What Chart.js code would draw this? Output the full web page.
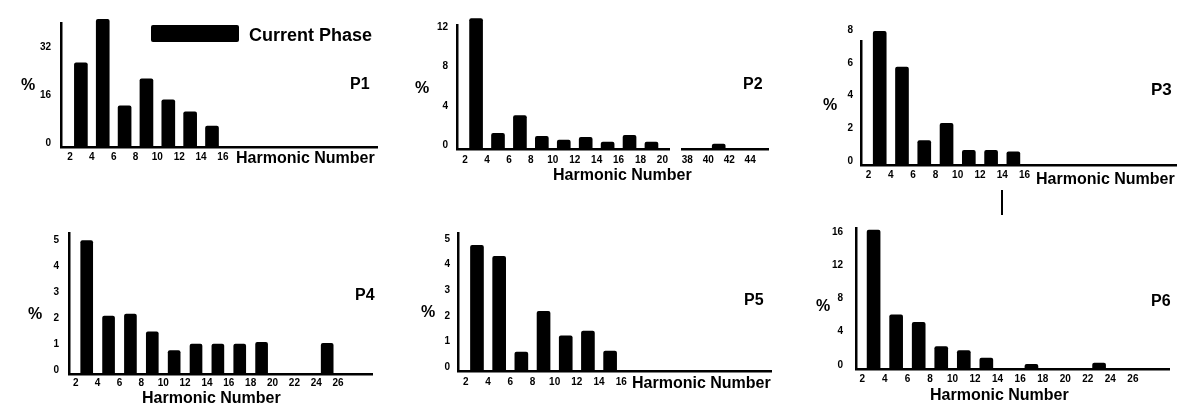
<!DOCTYPE html>
<html>
<head>
<meta charset="utf-8">
<title>Current phase harmonic spectra P1-P6</title>
<script src="https://cdn.jsdelivr.net/npm/chart.js@4.4.1/dist/chart.umd.min.js"></script>
<style>
  body { margin: 0; background: #fff; }
  #wrap { position: relative; width: 1187px; height: 403px; overflow: hidden; background: #fff; }
  #wrap canvas { position: absolute; left: 0; top: 0; }
</style>
</head>
<body>
<div id="wrap"></div>
<script>
// odd harmonic orders and their % values
const p1Harm = [3, 5, 7, 9, 11, 13, 15];
const p1Vals = [28, 42.5, 13.7, 22.7, 15.7, 11.7, 7];
const p1XTicks = [2, 4, 6, 8, 10, 12, 14, 16];
const p1YTicks = [0, 16, 32];

const p2Harm = [3, 5, 7, 9, 11, 13, 15, 17, 19];
const p2Vals = [13.3, 1.6, 3.4, 1.3, 0.9, 1.2, 0.7, 1.4, 0.7];
const p2HighHarm = [41];
const p2HighVals = [0.5];
const p2XTicks = [2, 4, 6, 8, 10, 12, 14, 16, 18, 20];
const p2HighXTicks = [38, 40, 42, 44];
const p2YTicks = [0, 4, 8, 12];

const p3Harm = [3, 5, 7, 9, 11, 13, 15];
const p3Vals = [8.2, 6.0, 1.5, 2.55, 0.9, 0.9, 0.8];
const p3XTicks = [2, 4, 6, 8, 10, 12, 14, 16];
const p3YTicks = [0, 2, 4, 6, 8];

const p4Harm = [3, 5, 7, 9, 11, 13, 15, 17, 19, 25];
const p4Vals = [5.13, 2.23, 2.3, 1.62, 0.9, 1.15, 1.15, 1.15, 1.22, 1.18];
const p4XTicks = [2, 4, 6, 8, 10, 12, 14, 16, 18, 20, 22, 24, 26];
const p4YTicks = [0, 1, 2, 3, 4, 5];

const p5Harm = [3, 5, 7, 9, 11, 13, 15];
const p5Vals = [4.91, 4.48, 0.74, 2.33, 1.37, 1.56, 0.78];
const p5XTicks = [2, 4, 6, 8, 10, 12, 14, 16];
const p5YTicks = [0, 1, 2, 3, 4, 5];

const p6Harm = [3, 5, 7, 9, 11, 13, 17, 23];
const p6Vals = [16.7, 6.5, 5.6, 2.7, 2.2, 1.3, 0.55, 0.7];
const p6XTicks = [2, 4, 6, 8, 10, 12, 14, 16, 18, 20, 22, 24, 26];
const p6YTicks = [0, 4, 8, 12, 16];

const W = 1187, H = 403;
const YW = 30, XH = 20;
const FONT = '"Liberation Sans", Arial, sans-serif';
const wrap = document.getElementById('wrap');

Chart.defaults.font.family = FONT;

// free text / shapes (panel names, "%", axis names, legend)
const notes = {
  id: 'notes',
  afterDraw(chart, args, opts) {
    const ctx = chart.ctx;
    ctx.save();
    (opts.items || []).forEach(n => {
      ctx.fillStyle = '#000';
      ctx.strokeStyle = '#000';
      if (n.box) {
        ctx.beginPath();
        ctx.roundRect(n.box[0], n.box[1], n.box[2], n.box[3], 2);
        ctx.fill();
        return;
      }
      if (n.line) {
        ctx.lineWidth = 2;
        ctx.beginPath();
        ctx.moveTo(n.line[0], n.line[1]);
        ctx.lineTo(n.line[2], n.line[3]);
        ctx.stroke();
        return;
      }
      ctx.font = 'bold ' + (n.size || 16) + 'px ' + FONT;
      ctx.fillStyle = n.color || '#000';
      ctx.textBaseline = 'alphabetic';
      ctx.fillText(n.text, n.x, n.y);
    });
    ctx.restore();
  }
};

const fixTicks = vals => scale => { scale.ticks = vals.map(v => ({ value: v })); };

function makePanel(p) {
  const cv = document.createElement('canvas');
  cv.width = W;
  cv.height = H;
  wrap.appendChild(cv);
  const axisLine = { display: true, width: 2.5, color: '#000' };
  new Chart(cv, {
    type: 'bar',
    data: {
      datasets: [{
        data: p.harm.map((h, i) => ({ x: h, y: p.vals[i] })),
        backgroundColor: '#000',
        barThickness: p.bar || 13,
        borderRadius: 2,
        clip: false
      }]
    },
    options: {
      responsive: false,
      animation: false,
      devicePixelRatio: 1,
      events: [],
      layout: {
        padding: {
          left: p.area.left - YW,
          top: p.area.top,
          right: W - p.area.right,
          bottom: H - p.area.bottom - XH
        }
      },
      plugins: {
        legend: { display: false },
        tooltip: { enabled: false },
        notes: { items: p.notes || [] }
      },
      scales: {
        x: {
          type: 'linear',
          min: p.xMin,
          max: p.xMax,
          offset: false,
          grid: { display: false, drawTicks: false },
          border: axisLine,
          ticks: { font: { size: 10, weight: 'bold' }, color: '#000', padding: p.xPad, maxRotation: 0, autoSkip: false },
          afterBuildTicks: fixTicks(p.xTicks),
          afterFit: s => { s.height = XH; }
        },
        y: {
          display: p.yTicks ? true : false,
          min: 0,
          max: p.yMax,
          grid: { display: false, drawTicks: false },
          border: axisLine,
          ticks: { font: { size: 10, weight: 'bold' }, color: '#000', padding: p.yPad || 9, labelOffset: -4, autoSkip: false },
          afterBuildTicks: fixTicks(p.yTicks || []),
          afterFit: s => { s.width = YW; }
        }
      }
    },
    plugins: [notes]
  });
}

makePanel({
  harm: p1Harm, vals: p1Vals, xTicks: p1XTicks, yTicks: p1YTicks,
  area: { left: 61, top: 23, right: 377, bottom: 147 },
  xMin: 1.18, xMax: 30.1, yMax: 41.3, xPad: 4, yPad: 10,
  notes: [
    { box: [151, 25, 88, 17] },
    { text: 'Current Phase', x: 249, y: 40.5, size: 18 },
    { text: 'P1', x: 350, y: 89 },
    { text: '%', x: 21, y: 90 },
    { text: 'Harmonic Number', x: 236, y: 163 }
  ]
});

makePanel({
  harm: p2Harm, vals: p2Vals, xTicks: p2XTicks, yTicks: p2YTicks,
  area: { left: 457, top: 25, right: 669, bottom: 149 },
  xMin: 1.26, xMax: 20.6, yMax: 12.65, xPad: 5, yPad: 9,
  notes: [
    { text: 'P2', x: 743, y: 88.5 },
    { text: '%', x: 415, y: 92.5 },
    { text: 'Harmonic Number', x: 553, y: 180 }
  ]
});

makePanel({
  harm: p2HighHarm, vals: p2HighVals, xTicks: p2HighXTicks,
  area: { left: 682, top: 25, right: 768, bottom: 149 },
  xMin: 37.5, xMax: 45.7, yMax: 12.65, xPad: 5
});

makePanel({
  harm: p3Harm, vals: p3Vals, xTicks: p3XTicks, yTicks: p3YTicks,
  area: { left: 861, top: 41, right: 1176, bottom: 165 },
  xMin: 1.32, xMax: 29.6, yMax: 7.6, xPad: 4.5, yPad: 8,
  notes: [
    { text: 'P3', x: 1151, y: 94.5, size: 17 },
    { text: '%', x: 823, y: 110 },
    { text: 'Harmonic Number', x: 1036, y: 184 },
    { line: [1002, 190, 1002, 215] }
  ]
});

makePanel({
  harm: p4Harm, vals: p4Vals, xTicks: p4XTicks, yTicks: p4YTicks,
  area: { left: 69, top: 233, right: 372, bottom: 374 },
  xMin: 1.38, xMax: 29.1, yMax: 5.42, xPad: 3, yPad: 10, bar: 12,
  notes: [
    { text: 'P4', x: 355, y: 300 },
    { text: '%', x: 28, y: 319 },
    { text: 'Harmonic Number', x: 142, y: 402.5 }
  ]
});

makePanel({
  harm: p5Harm, vals: p5Vals, xTicks: p5XTicks, yTicks: p5YTicks,
  area: { left: 458, top: 233, right: 771, bottom: 371 },
  xMin: 1.29, xMax: 29.5, yMax: 5.39, xPad: 5.5, yPad: 8,
  notes: [
    { text: 'P5', x: 744, y: 305 },
    { text: '%', x: 421, y: 316.5 },
    { text: 'Harmonic Number', x: 632, y: 387.5 }
  ]
});

makePanel({
  harm: p6Harm, vals: p6Vals, xTicks: p6XTicks, yTicks: p6YTicks,
  area: { left: 856, top: 228, right: 1169, bottom: 369 },
  xMin: 1.44, xMax: 29.2, yMax: 16.95, xPad: 4, yPad: 13,
  notes: [
    { text: 'P6', x: 1151, y: 306 },
    { text: '%', x: 816, y: 310.5 },
    { text: 'Harmonic Number', x: 930, y: 400 }
  ]
});
</script>
</body>
</html>
